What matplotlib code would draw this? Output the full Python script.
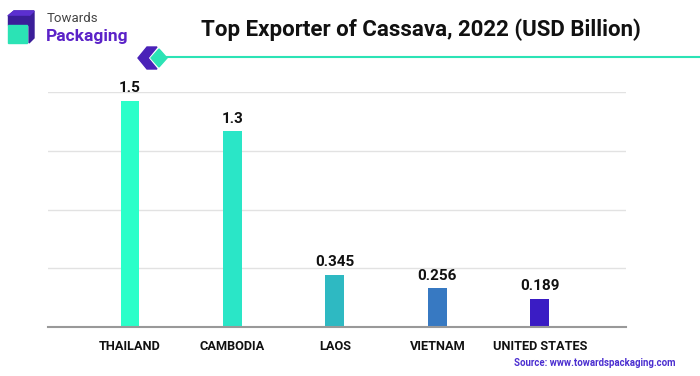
import matplotlib
matplotlib.use("Agg")
import matplotlib.pyplot as plt
import numpy as np
from matplotlib.patches import Polygon

categories = ["THAILAND", "CAMBODIA", "LAOS", "VIETNAM", "UNITED STATES"]
values = [1.5, 1.3, 0.345, 0.256, 0.189]
labels = ["1.5", "1.3", "0.345", "0.256", "0.189"]
colors = ["#2BFFC9", "#2AE6C7", "#2EB9C2", "#3779C2", "#3A1CC4"]

plt.rcParams['font.family'] = ['Roboto', 'DejaVu Sans']

W, H = 700, 376
fig = plt.figure(figsize=(7, 3.76), dpi=100)
fig.patch.set_facecolor("white")

def P(px, py):
    return (px / W, 1 - py / H)

ax = fig.add_axes([48 / W, 1 - 327 / H, (626 - 48) / W, (327 - 92) / H])
x = np.arange(len(categories))
ax.bar(x, values, width=0.185, color=colors, zorder=3)
ax.set_xlim(-0.8, 4.84)
ax.set_ylim(0, 1.56)
ax.set_yticks(np.linspace(0, 1.56, 5))
ax.yaxis.grid(True, color="#e2e2e2", linewidth=1, zorder=0)
ax.tick_params(axis="y", length=0, labelleft=False)
ax.tick_params(axis="x", length=0, pad=9)
ax.set_xticks(x)
ax.set_xticklabels(categories, fontweight="bold", fontsize=9.2, color="#111111")
for s in ["top", "right", "left"]:
    ax.spines[s].set_visible(False)
ax.spines["bottom"].set_color("#999999")
ax.spines["bottom"].set_linewidth(1.5)
ax.spines["bottom"].set_zorder(4)
for xi, v, lab in zip(x, values, labels):
    ax.annotate(lab, (xi, v), xytext=(0, 4), textcoords="offset points",
                ha="center", va="bottom", fontsize=11, fontweight="bold", color="#111111")

# Title
fig.text(*P(421, 30), "Top Exporter of Cassava, 2022 (USD Billion)",
         ha="center", va="center", fontsize=16, fontweight="bold", color="#111111")

# Decorative line with chevron
fig.add_artist(plt.Line2D([167 / W, 1.0], [1 - 57 / H, 1 - 57 / H], color="#2BE3B5", linewidth=1.5))
fig.add_artist(Polygon([P(147, 47), P(138, 58), P(147, 69), P(157, 69), P(148, 58), P(157, 47)],
                       closed=True, color="#4A22B8", transform=fig.transFigure))
fig.add_artist(Polygon([P(159, 49), P(151, 58), P(159, 67), P(167, 58)],
                       closed=True, color="#2BE3B5", transform=fig.transFigure))

# Logo
fig.add_artist(Polygon([P(8, 16), P(14, 11), P(34, 11), P(34, 38), P(29, 43), P(29, 16)],
                       closed=True, color="#3B1E99", transform=fig.transFigure))
fig.add_artist(Polygon([P(8, 16), P(14, 11), P(34, 11), P(29, 16)],
                       closed=True, color="#5B2FD0", transform=fig.transFigure))
fig.add_artist(Polygon([P(8, 16), P(29, 16), P(29, 25), P(8, 25)],
                       closed=True, color="#3B1E99", transform=fig.transFigure))
fig.add_artist(Polygon([P(8, 25), P(27, 25), P(27, 43), P(8, 43)],
                       closed=True, color="#2BE3B5", transform=fig.transFigure))
fig.text(*P(47, 19), "Towards", fontsize=9.5, color="#444444", va="center", ha="left")
fig.text(*P(46, 36), "Packaging", fontsize=12.5, fontweight="bold", color="#5B22C8",
         va="center", ha="left")

# Source
fig.text(*P(676, 363), "Source: www.towardspackaging.com", fontsize=6.9,
         fontweight="bold", color="#4B2ED0", ha="right", va="center")

fig.savefig("out.png", dpi=100, facecolor="white")
